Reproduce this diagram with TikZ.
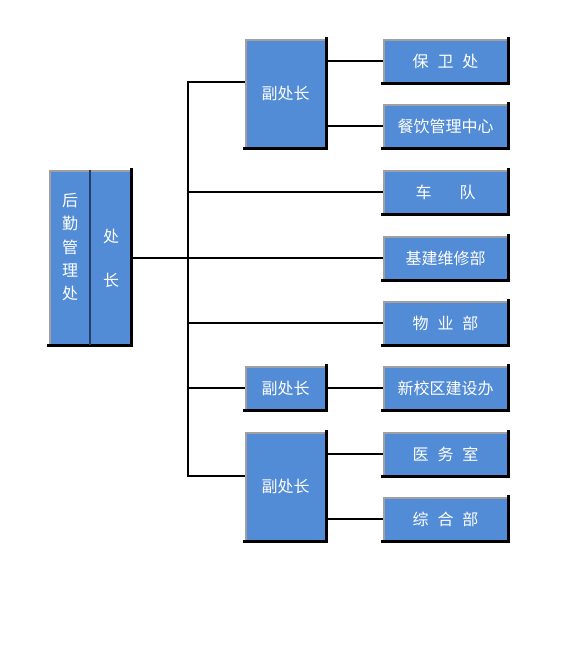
\documentclass[tikz,border=0pt]{standalone}
\usepackage{fontspec}
\newfontfamily\cjk{Noto Sans CJK SC}
\definecolor{boxblue}{RGB}{82,140,214}
\definecolor{edgegray}{RGB}{160,160,160}
\definecolor{divline}{RGB}{40,60,100}
\begin{document}
\begin{tikzpicture}[x=1pt,y=-1pt,
  box/.style={fill=boxblue, inner sep=0pt, text=white, font=\cjk\fontsize{16}{18}\selectfont, align=center},
  rbox/.style={box, minimum width=125pt, minimum height=44pt},
  vbox/.style={box, minimum width=81pt},
  conn/.style={line width=2pt, black}]
\useasboundingbox[fill=white] (0,0) rectangle (570,650);

% head box (two halves)
\node[box, minimum width=41pt, minimum height=175pt] (hl) at (69.5,257.5) {};
\node[box, minimum width=41pt, minimum height=175pt] (hr) at (110.5,257.5) {};
\node[text=white, font=\cjk\fontsize{16}{23.3}\selectfont, align=center, inner sep=0pt] (hltext) at (70,247)
  {后\\勤\\管\\理\\处};
\node[text=white, font=\cjk\fontsize{16}{44}\selectfont, align=center, inner sep=0pt] (hrtext) at (111,258)
  {处\\长};

% vice heads
\node[vbox, minimum height=109pt] (v1) at (285.5,93.5) {副处长};
\node[vbox, minimum height=44pt] (v2) at (285.5,388) {副处长};
\node[vbox, minimum height=109pt] (v3) at (285.5,486.5) {副处长};

% departments
\node[rbox] (c1) at (445.5,61) {保\hspace{0.55em}卫\hspace{0.55em}处};
\node[rbox] (c2) at (445.5,126) {餐饮管理中心};
\node[rbox] (c3) at (445.5,192) {车\hspace{1.75em}队};
\node[rbox] (c4) at (445.5,258) {基建维修部};
\node[rbox] (c5) at (445.5,323) {物\hspace{0.55em}业\hspace{0.55em}部};
\node[rbox] (c6) at (445.5,388) {新校区建设办};
\node[rbox] (c7) at (445.5,454) {医\hspace{0.55em}务\hspace{0.55em}室};
\node[rbox] (c8) at (445.5,519) {综\hspace{0.55em}合\hspace{0.55em}部};

% box edges: gray top/left, black right/bottom
\foreach \n in {hl,v1,v2,v3,c1,c2,c3,c4,c5,c6,c7,c8}{
  \draw[edgegray, line width=2pt] ([xshift=1pt]\n.south west) -- ([xshift=1pt,yshift=-1pt]\n.north west) -- ([yshift=-1pt]\n.north east);
}
\draw[edgegray, line width=2pt] ([yshift=-1pt]hr.north west) -- ([yshift=-1pt]hr.north east);
\foreach \n in {hr,v1,v2,v3,c1,c2,c3,c4,c5,c6,c7,c8}{
  \draw[black, line width=3pt, line cap=rect] (\n.north east) -- (\n.south east);
}
\foreach \n in {v1,v2,v3,c1,c2,c3,c4,c5,c6,c7,c8}{
  \draw[black, line width=3pt, line cap=rect] (\n.south west) -- (\n.south east);
}
\draw[black, line width=3pt, line cap=rect] (hl.south west) -- (hr.south east);
% divider
\draw[divline, line width=0.8pt] ([xshift=-1pt]hl.north east) -- ([xshift=-1pt]hl.south east);
\draw[divline, line width=0.8pt] ([xshift=1pt]hr.north west) -- ([xshift=1pt]hr.south west);

% connectors
\coordinate (t1) at (188,82);
\coordinate (t2) at (188,476);
\draw[conn] (v1.west |- t1) -- (t1) -- (t2) -- (v3.west |- t2);
\draw[conn] ([xshift=1.5pt]hr.east |- c4.west) -- (c4.west);
\draw[conn] (c3.west) -- (c3.west -| t1);
\draw[conn] (c5.west) -- (c5.west -| t1);
\draw[conn] (v2.west) -- (v2.west -| t1);
\draw[conn] (v2.east) -- (c6.west);
\draw[conn] (c1.west) -- (c1.west -| v1.east);
\draw[conn] (c2.west) -- (c2.west -| v1.east);
\draw[conn] (c7.west) -- (c7.west -| v3.east);
\draw[conn] (c8.west) -- (c8.west -| v3.east);
\end{tikzpicture}
\end{document}
